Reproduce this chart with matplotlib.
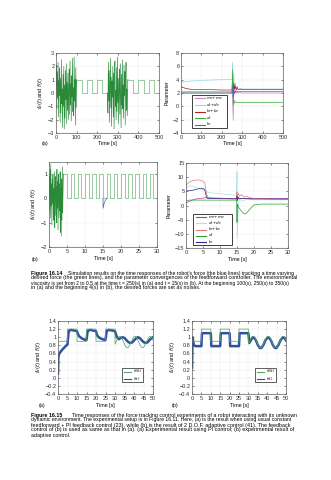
import numpy as np
import matplotlib
matplotlib.use('Agg')
import matplotlib.pyplot as plt
from matplotlib.patches import Rectangle
from matplotlib.lines import Line2D

plt.rcParams['font.family'] = ['Liberation Sans', 'DejaVu Sans']
plt.rcParams['mathtext.fontset'] = 'dejavusans'
plt.rcParams['axes.unicode_minus'] = True

# ---------------- data : Figure 16.14 (a) force ----------------
a_noise1_span = [0, 100]
a_noise1_vals = [0.5, 2.1, -1.2, 1.6, -0.4, 2.3, -1.8, 0.9, -0.2, 1.9, -2.2, 1.1, -1.5, 2.5, -0.8, 0.3,
                 -2.6, 1.4, -1.0, 2.0, -2.7, 0.6, -1.9, 1.7, -0.5, 2.2, -2.3, 0.8, -1.3, 1.5, -2.0, 0.2,
                 1.8, -1.6, 2.4, -0.9, 0.7, -2.1, 1.3, -0.3, 2.6, -1.4, 0.4, -1.7, 2.7, -0.6, 1.0, -2.4,
                 1.9, -1.1, 1.0]
a_noise2_span = [250, 350]
a_noise2_vals = [0.0, -1.5, 2.3, -0.6, 1.7, -2.2, 0.4, 2.6, -1.1, 1.2, -2.5, 0.9, -0.3, 2.0, -1.8, 1.5,
                 -2.7, 0.7, 2.4, -1.0, 0.2, -2.0, 1.9, -1.4, 2.7, -0.7, 1.1, -2.3, 0.5, 1.8, -1.6, 2.2,
                 -0.4, -2.6, 1.4, -0.9, 2.5, -1.2, 0.6, -1.9, 2.1, -0.2, 1.6, -2.4, 0.9, 2.3, -1.3, 0.3,
                 -1.7, 1.0, 1.0]
a_sq1_edges = [100, 125, 150, 175, 200, 225, 250]
a_sq1_levels = [1, 0, 1, 0, 1, 0]
a_sq2_edges = [350, 375, 400, 425, 450, 475, 500]
a_sq2_levels = [1, 0, 1, 0, 1, 0]

# ---------------- Figure 16.14 (a) parameters ----------------
pa_t = [0, 5, 10, 20, 50, 100, 150, 200, 250, 253, 256, 259, 262, 266, 270, 275, 280, 290, 300, 400, 500]
pa_m = [2.0, 2.3, 2.25, 2.2, 2.2, 2.2, 2.2, 2.2, 2.2, 1.0, -2.1, 2.6, 1.8, 2.3, 2.0, 2.2, 2.0, 2.1, 2.0, 2.0, 2.0]
pa_d = [3.3, 3.8, 3.6, 3.7, 3.8, 3.9, 3.95, 4.0, 4.05, 6.6, 3.0, 5.0, 2.2, 3.5, 2.6, 3.0, 2.5, 2.7, 2.6, 2.6, 2.6]
pa_k = [3.0, 2.8, 2.9, 2.7, 2.55, 2.5, 2.5, 2.45, 2.45, 4.5, 1.5, 3.5, 2.6, 3.1, 2.4, 2.9, 2.5, 2.6, 2.5, 2.5, 2.5]
pa_dr = [1.9, 2.0, 2.0, 2.0, 2.0, 2.0, 2.0, 2.0, 2.0, 5.5, 0.2, 1.0, 0.5, 0.7, 0.6, 0.6, 0.6, 0.6, 0.6, 0.6, 0.6]
pa_kr = [1.7, 2.0, 2.0, 2.0, 2.0, 2.0, 2.0, 2.0, 2.0, 3.0, 1.2, 2.5, 2.0, 2.3, 2.1, 2.2, 2.2, 2.2, 2.2, 2.2, 2.2]

# ---------------- Figure 16.14 (b) force ----------------
b_noise_span = [0, 4]
b_noise_vals = [0.1, 0.9, -0.5, 1.2, -0.8, 1.4, -0.3, 0.6, -1.1, 0.8, -0.2, 1.0, -0.9, 0.4, -0.6, 1.1,
                -1.2, 0.3, 0.9, -0.7, 0.5, -1.0, 1.2, -0.4, 0.7, -1.3, 0.2, 1.0, -0.8, 0.6, -0.5, 1.1,
                -1.4, 0.4, -1.55, 0.8, -0.9, 1.3, -0.6, 0.3, 1.0]
b_sq_edges = [4, 5, 6, 7, 8, 9, 10, 11, 12, 13, 14, 15, 16, 17, 18, 19, 20, 21, 22, 23, 24, 25, 26,
              27, 28, 29, 30]
b_sq_levels = [1, 0, 1, 0, 1, 0, 1, 0, 1, 0, 1, 0, 1, 0, 1, 0, 1, 0, 1, 0, 1, 0, 1, 0, 1, 0]
b_dip_t = [15.0, 15.03, 15.4, 16.0]
b_dip_v = [0.0, -0.4, -0.15, 0.0]

# ---------------- Figure 16.14 (b) parameters ----------------
pb_t = [0, 0.5, 1, 2, 3, 4, 5, 5.5, 6, 6.3, 7, 8, 10, 12, 14.9, 15.0, 15.1, 15.4, 15.8, 16.3,
        17, 17.5, 18, 19, 20, 22, 25, 30]
pb_k = [7.0, 7.8, 8.3, 8.8, 9.0, 9.0, 8.6, 8.0, 4.5, 3.0, 2.8, 2.7, 2.6, 2.5, 2.4, 4.8, 2.8, 4.2,
        3.2, 3.9, 2.9, 3.3, 3.1, 2.7, 2.5, 2.4, 2.3, 2.2]
pb_d = [5.5, 6.5, 7.0, 6.8, 6.3, 5.9, 5.6, 5.3, 4.9, 4.7, 4.5, 4.4, 4.2, 3.9, 3.6, 12.0, -11.5, 0.5,
        2.5, 1.5, 1.8, 2.0, 2.1, 2.0, 2.0, 2.0, 2.0, 2.0]
pb_kr = [5.0, 5.2, 5.3, 5.4, 5.7, 6.0, 6.0, 5.6, 3.0, 2.5, 2.5, 2.5, 2.4, 2.4, 2.3, 3.3, 1.8, 2.8,
         2.4, 2.5, 2.4, 2.4, 2.4, 2.3, 2.3, 2.3, 2.3, 2.3]
pb_m = [0.8, 1.2, 1.5, 2.0, 2.3, 2.5, 2.6, 2.7, 2.8, 2.7, 2.6, 2.5, 2.5, 2.4, 2.4, 3.2, 1.6, 2.8,
        2.3, 2.5, 2.4, 2.5, 2.5, 2.5, 2.5, 2.5, 2.5, 2.5]
pb_dr = [1.8, 1.8, 1.9, 1.9, 1.9, 1.9, 1.9, 1.9, 1.9, 1.9, 1.9, 1.9, 1.9, 1.9, 1.9, -6.0, 0.5, -0.5,
         -1.2, -2.0, -2.8, -3.0, -2.4, -1.0, 0.2, 0.5, 0.5, 0.5]

param_labels = [r'$m_r\!+\!m_e$', r'$d_r\!+\!d_e$', r'$k_r\!+\!k_e$', r'$d_r$', r'$k_r$']

# ---------------- Figure 16.15 experiments ----------------
e_sq_edges = [0, 5, 10, 15, 20, 25, 30]
e_sq_levels = [0.9, 1.2, 0.9, 1.2, 0.9, 1.2]
e_sin_span = [30, 50]
e_sin_vals = [0.83, 0.88, 0.93, 0.98, 1.01, 1.02, 1.01, 0.98, 0.93, 0.88, 0.83, 0.78, 0.75, 0.74,
              0.75, 0.78, 0.83, 0.88, 0.93, 0.98, 1.01, 1.02, 1.01, 0.98, 0.93, 0.88, 0.83, 0.78,
              0.75, 0.74, 0.75, 0.78, 0.83, 0.88, 0.93, 0.98, 1.01, 1.02, 1.01, 0.98, 0.93]
pi_t = [0, 0.2, 0.5, 1, 2, 3, 4, 5, 5.5, 6, 7, 8, 9, 10, 10.5, 11, 12, 13, 14, 15, 15.5, 16, 17,
        18, 19, 20, 20.5, 21, 22, 23, 24, 25, 25.5, 26, 27, 28, 29, 30, 31, 32, 33, 34, 35, 36,
        37, 38, 39, 40, 41, 42, 43, 44, 45, 46, 47, 48, 49, 50]
pi_f = [0.1, 0.5, 0.58, 0.62, 0.68, 0.73, 0.78, 0.82, 1.1, 1.17, 1.18, 1.17, 1.16, 1.15, 1.08,
        1.03, 0.99, 0.96, 0.94, 0.93, 1.12, 1.17, 1.18, 1.17, 1.16, 1.15, 1.06, 1.02, 0.98, 0.96,
        0.94, 0.93, 1.12, 1.17, 1.18, 1.17, 1.16, 1.15, 1.0, 0.95, 0.98, 1.0, 0.98, 0.93, 0.88,
        0.86, 0.87, 0.92, 0.97, 1.0, 0.98, 0.93, 0.88, 0.86, 0.87, 0.92, 0.97, 1.0]
ad_t = [0, 0.3, 0.6, 1, 2, 5, 5.3, 10, 10.3, 15, 15.3, 20, 20.3, 25, 25.3, 30, 30.5, 31, 32, 32.5,
        33, 34, 35, 36, 36.5, 37, 38, 39, 40, 40.5, 41, 42, 43, 44, 44.5, 45, 46, 47, 48, 48.5,
        49, 50]
ad_f = [0.25, 1.0, 0.9, 0.8, 0.78, 0.78, 1.1, 1.1, 0.78, 0.78, 1.1, 1.1, 0.78, 0.78, 1.1, 1.1,
        0.86, 0.9, 0.98, 1.0, 0.99, 0.92, 0.81, 0.74, 0.73, 0.74, 0.81, 0.92, 0.98, 1.0, 0.99,
        0.92, 0.81, 0.74, 0.73, 0.74, 0.81, 0.92, 0.98, 1.0, 0.99, 0.92]

cap14 = ["Simulation results on the time responses of the robot\u2019s force (the blue lines) tracking a time varying",
         "desired force (the green lines), and the parameter convergences of the feedforward controller. The environmental",
         "viscosity is set from 2 to 0.5 at the time t = 250(s) in (a) and t = 15(s) in (b). At the beginning 100(s), 250(s) to 350(s)",
         "in (a) and the beginning 4(s) in (b), the desired forces are set as noises."]
cap15 = ["Time responses of the force tracking control experiments of a robot interacting with its unknown",
         "dynamic environment. The experimental setup is in Figure 16.11. Here, (a) is the result when using usual constant",
         "feedforward + PI feedback control (23), while (b) is the result of 2 D.O.F. adaptive control (41). The feedback",
         "control of (b) is used as same as that in (a). (a) Experimental result using PI control; (b) experimental result of",
         "adaptive control."]

# ---------------- helpers ----------------
W, H = 331, 480
fig = plt.figure(figsize=(W / 100, H / 100), dpi=100)
TFS = 4.0


def fx(x):
    return x / W


def fy(y):
    return 1 - y / H


def ax_at(x0, y0, x1, y1):
    ax = fig.add_axes([x0 / W, 1 - y1 / H, (x1 - x0) / W, (y1 - y0) / H])
    ax.grid(True, color='#c8c8c8', lw=0.3, ls=':')
    for s in ax.spines.values():
        s.set_color('#606060')
        s.set_linewidth(0.5)
    ax.tick_params(labelsize=TFS, length=1.5, width=0.4, pad=1.2, direction='in',
                   colors='#303030', top=True, right=True)
    return ax


def steps(edges, levels):
    xs, ys = [], []
    for i, lv in enumerate(levels):
        xs += [edges[i], edges[i + 1]]
        ys += [lv, lv]
    return xs, ys


def span_t(span, vals):
    return np.linspace(span[0], span[1], len(vals))


def ftext(x, y, s, **kw):
    return fig.text(fx(x), fy(y), s, **kw)


def box_legend(x0, y0, x1, y1, colors, labels, fs, lw_box=0.6, hl=10):
    """Legend drawn as a framed box in figure pixel coordinates."""
    fig.add_artist(Rectangle((fx(x0), fy(y1)), fx(x1) - fx(x0), fy(y0) - fy(y1),
                             transform=fig.transFigure, facecolor='white',
                             edgecolor='#202020', lw=lw_box, zorder=10))
    n = len(labels)
    step = (y1 - y0) / n
    for i, (c, lab) in enumerate(zip(colors, labels)):
        yy = y0 + step * (i + 0.5)
        fig.add_artist(Line2D([fx(x0 + 2.5), fx(x0 + 2.5 + hl)], [fy(yy), fy(yy)],
                              transform=fig.transFigure, color=c, lw=0.8, zorder=11))
        ftext(x0 + 4.5 + hl, yy, lab, fontsize=fs, va='center', ha='left', zorder=12)


# ---------------- (a) force ----------------
ax = ax_at(56, 53, 159, 133)
for ed, lv in [(a_sq1_edges, a_sq1_levels), (a_sq2_edges, a_sq2_levels)]:
    xs, ys = steps(ed, lv)
    ax.plot(xs, ys, color='#6fb87a', lw=0.5)
for sp, vals in [(a_noise1_span, a_noise1_vals), (a_noise2_span, a_noise2_vals)]:
    ax.plot(span_t(sp, vals), vals, color='#2a8a3a', lw=0.45)
ax.set_xlim(0, 500)
ax.set_ylim(-3, 3)
ax.set_xticks([0, 100, 200, 300, 400, 500])
ax.set_yticks([-3, -2, -1, 0, 1, 2, 3])
ax.set_xlabel('Time [s]', fontsize=3.8, labelpad=1)
ax.set_ylabel(r'$f_d(t)$ and $f(t)$', fontsize=3.8, labelpad=2)

# ---------------- (a) parameters ----------------
ax = ax_at(181, 53, 283, 133)
cols_a = ['#d47fcb', '#8fdbe6', '#b52020', '#3cae3c', '#6262b8']
for ys, c in zip([pa_m, pa_d, pa_k, pa_dr, pa_kr], cols_a):
    ax.plot(pa_t, ys, color=c, lw=0.5)
ax.set_xlim(0, 500)
ax.set_ylim(-4, 8)
ax.set_xticks([0, 100, 200, 300, 400, 500])
ax.set_yticks([-4, -2, 0, 2, 4, 6, 8])
ax.set_xlabel('Time [s]', fontsize=3.8, labelpad=1)
ax.set_ylabel('Parameter', fontsize=3.8, labelpad=2)
box_legend(192, 95, 227, 128, cols_a, param_labels, 3.0)

# ---------------- (b) force ----------------
ax = ax_at(49, 162, 157, 247)
xs, ys = steps(b_sq_edges, b_sq_levels)
ax.plot(xs, ys, color='#6fb87a', lw=0.5)
ax.plot(b_dip_t, b_dip_v, color='#5060a8', lw=0.5)
ax.plot(span_t(b_noise_span, b_noise_vals), b_noise_vals, color='#2a8a3a', lw=0.45)
ax.set_xlim(0, 30)
ax.set_ylim(-2, 1.5)
ax.set_xticks([0, 5, 10, 15, 20, 25, 30])
ax.set_yticks([-2, -1, 0, 1])
ax.set_xlabel('Time [s]', fontsize=3.8, labelpad=1.5)
ax.set_ylabel(r'$f_d(t)$ and $f(t)$', fontsize=3.8, labelpad=2)

# ---------------- (b) parameters ----------------
ax = ax_at(186, 163, 288, 248)
cols_b = ['#a040a0', '#a6e2ea', '#e27a7a', '#2e9e2e', '#2e2e7e']
for ys, c in zip([pb_m, pb_d, pb_k, pb_dr, pb_kr], cols_b):
    ax.plot(pb_t, ys, color=c, lw=0.5)
ax.set_xlim(0, 30)
ax.set_ylim(-15, 15)
ax.set_xticks([0, 5, 10, 15, 20, 25, 30])
ax.set_yticks([-15, -10, -5, 0, 5, 10, 15])
ax.set_xlabel('Time [s]', fontsize=3.8, labelpad=1.5)
ax.set_ylabel('Parameter', fontsize=3.8, labelpad=2)
box_legend(193, 214, 232, 245, cols_b, param_labels, 3.0)

# ---------------- Figure 16.15 ----------------
ylabs = ['\u22120.4', '\u22120.2', '0', '0.2', '0.4', '0.6', '0.8', '1', '1.2', '1.4']
for (x0, x1), ft, fv in [((58, 153), pi_t, pi_f), ((192, 286), ad_t, ad_f)]:
    ax = ax_at(x0, 321, x1, 394)
    xs, ys = steps(e_sq_edges, e_sq_levels)
    xs = xs + list(span_t(e_sin_span, e_sin_vals))
    ys = ys + list(e_sin_vals)
    ax.plot(ft, fv, color='#3050a0', lw=1.8, zorder=2)
    ax.plot(xs, ys, color='#56a85a', lw=0.55, zorder=3)
    ax.set_xlim(0, 50)
    ax.set_ylim(-0.4, 1.4)
    ax.set_xticks([0, 5, 10, 15, 20, 25, 30, 35, 40, 45, 50])
    ax.set_yticks([-0.4, -0.2, 0, 0.2, 0.4, 0.6, 0.8, 1.0, 1.2, 1.4])
    ax.set_yticklabels(ylabs)
    ax.set_xlabel('Time [s]', fontsize=3.8, labelpad=1.5)
    ax.set_ylabel(r'$f_d(t)$ and $f(t)$', fontsize=3.8, labelpad=1.5)
    lx = x0 + 0.67 * (x1 - x0)
    box_legend(lx, 368, lx + 21, 382, ['#56a85a', '#3050a0'], [r'$f_d(t)$', r'$f(t)$'], 2.8,
               lw_box=0.5, hl=7)

# sub-figure letters
for (x, y, s) in [(45, 143, '(a)'), (35, 260, '(b)'), (42, 405, '(a)'), (175, 405, '(b)')]:
    ftext(x, y, s, fontsize=3.8, ha='center', va='center')

# ---------------- captions (justified to the text block) ----------------
X0, X1 = 31, 298
CFS = 3.4
probe = ftext(X0, 300, cap14[1], fontsize=CFS, va='center')
fig.canvas.draw()
rend = fig.canvas.get_renderer()
w = probe.get_window_extent(rend).width
probe.remove()
CFS = CFS * (X1 - X0) / w


def caption(y0, head, lines, rest_x):
    ftext(X0, y0, head, fontsize=CFS, weight='bold', va='center')
    for i, s in enumerate(lines):
        x = rest_x if i == 0 else X0
        t = ftext(x, y0 + i * 5.0, s, fontsize=CFS, va='center')
        if i < len(lines) - 1:
            ww = t.get_window_extent(rend).width
            f = min(1.08, max(0.9, (X1 - x) / ww))
            t.set_fontsize(CFS * f)


caption(273, 'Figure 16.14', cap14, 68)
caption(415, 'Figure 16.15', cap15, 72)

fig.savefig('out.png', dpi=100)
